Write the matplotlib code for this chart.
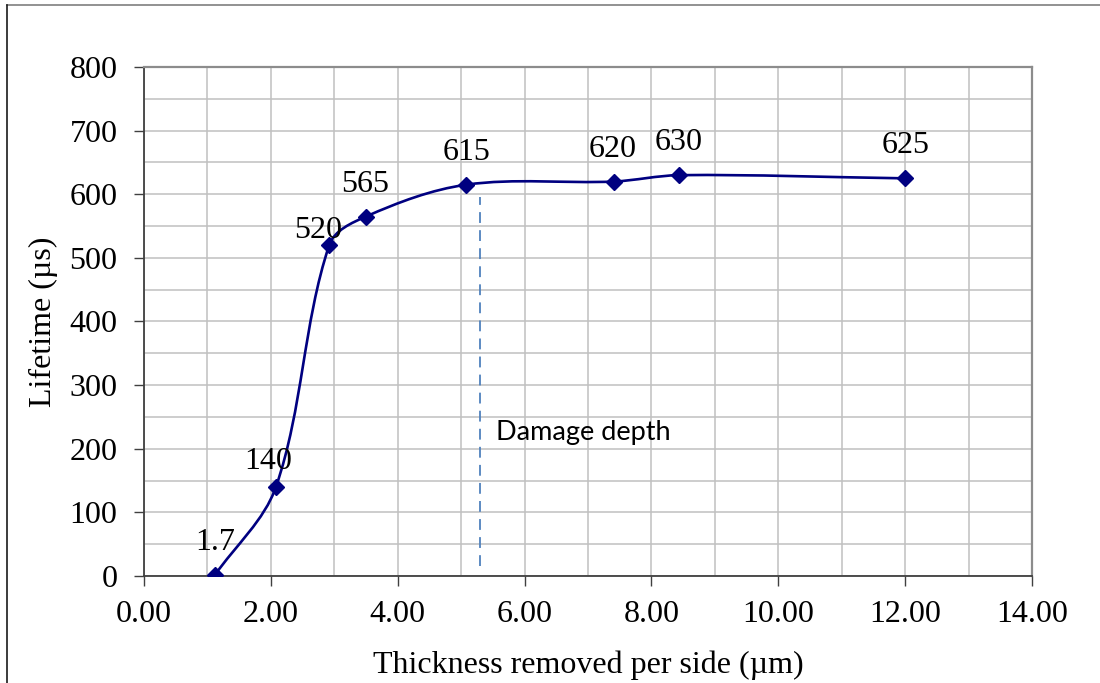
import numpy as np
import matplotlib.pyplot as plt
from matplotlib.path import Path
from matplotlib.patches import PathPatch
from matplotlib.lines import Line2D

# thickness removed per side (um) and measured lifetime (us)
thickness = [1.12, 2.08, 2.92, 3.50, 5.08, 7.41, 8.44, 12.0]
lifetime = [1.7, 140, 520, 565, 615, 620, 630, 625]
labels = ['1.7', '140', '520', '565', '615', '620', '630', '625']
# offsets of the value labels from their points (pixels)
label_dx = [0, -8, -11, -1, 0, -1, -1, 0]
label_dy = [32, 25, 15, 32, 32, 32, 33, 33]

damage_x = 5.30
damage_y = (16, 595)

plt.rcParams['font.family'] = 'Liberation Serif'

fig = plt.figure(figsize=(11, 6.83), dpi=100)
ax = fig.add_axes([0.1309, 0.1567, 0.8073, 0.7452])

# outer frame lines of the figure
fig.add_artist(Line2D([7/1100, 1.0], [1 - 5/683, 1 - 5/683], color='#7f7f7f', lw=1.2))
fig.add_artist(Line2D([7/1100, 7/1100], [0, 1 - 5/683], color='#1a1a1a', lw=1.2))

ax.set_xlim(0, 14)
ax.set_ylim(0, 800)
ax.set_xticks(np.arange(0, 15, 2))
ax.set_xticks(np.arange(0, 15, 1), minor=True)
ax.set_yticks(np.arange(0, 801, 100))
ax.set_yticks(np.arange(0, 801, 50), minor=True)
ax.set_xticklabels(['%.2f' % v for v in np.arange(0, 15, 2)])
ax.grid(which='both', color='#c0c0c0', lw=1.1)
ax.set_axisbelow(True)
ax.tick_params(which='major', direction='out', length=7, width=1.0, color='#404040',
               labelsize=23)
ax.tick_params(axis='y', pad=12)
ax.tick_params(axis='x', pad=10)
ax.tick_params(which='minor', length=0)
for s in ['left', 'bottom']:
    ax.spines[s].set_color('#404040')
    ax.spines[s].set_linewidth(1.3)
for s in ['top', 'right']:
    ax.spines[s].set_color('#8c8c8c')
    ax.spines[s].set_linewidth(1.6)

# smoothed line through the points: cubic bezier built in display space,
# tangent along neighbour chord, handle length a third of each segment
trans = ax.transData
pts = trans.transform(np.column_stack([thickness, lifetime]))
n = len(pts)
tang = []
for i in range(n):
    d = pts[min(i + 1, n - 1)] - pts[max(i - 1, 0)]
    tang.append(d / np.hypot(*d))
verts = [pts[0]]
codes = [Path.MOVETO]
for i in range(n - 1):
    seg = np.hypot(*(pts[i + 1] - pts[i])) / 3
    verts += [pts[i] + tang[i] * seg, pts[i + 1] - tang[i + 1] * seg, pts[i + 1]]
    codes += [Path.CURVE4] * 3
verts = trans.inverted().transform(np.array(verts))
ax.add_patch(PathPatch(Path(verts, codes), fill=False, ec='#000080', lw=1.9, zorder=3))
ax.plot(thickness, lifetime, ls='none', marker='D', ms=8.5, color='#000080', zorder=4)

for x, y, t, dx, dy in zip(thickness, lifetime, labels, label_dx, label_dy):
    ax.annotate(t, (x, y), xytext=(dx, dy), textcoords='offset pixels',
                ha='center', va='center', fontsize=23)

ax.plot([damage_x, damage_x], damage_y, ls=(0, (6, 4)), color='#4f81bd', lw=1.3, zorder=2)
ax.text(5.55, 225, 'Damage depth', fontsize=19.5, family='Lato', va='center', ha='left')

ax.set_xlabel('Thickness removed per side (µm)', fontsize=23, labelpad=16)
ax.set_ylabel('Lifetime (µs)', fontsize=23, labelpad=8)

fig.savefig('out.png', dpi=100)
